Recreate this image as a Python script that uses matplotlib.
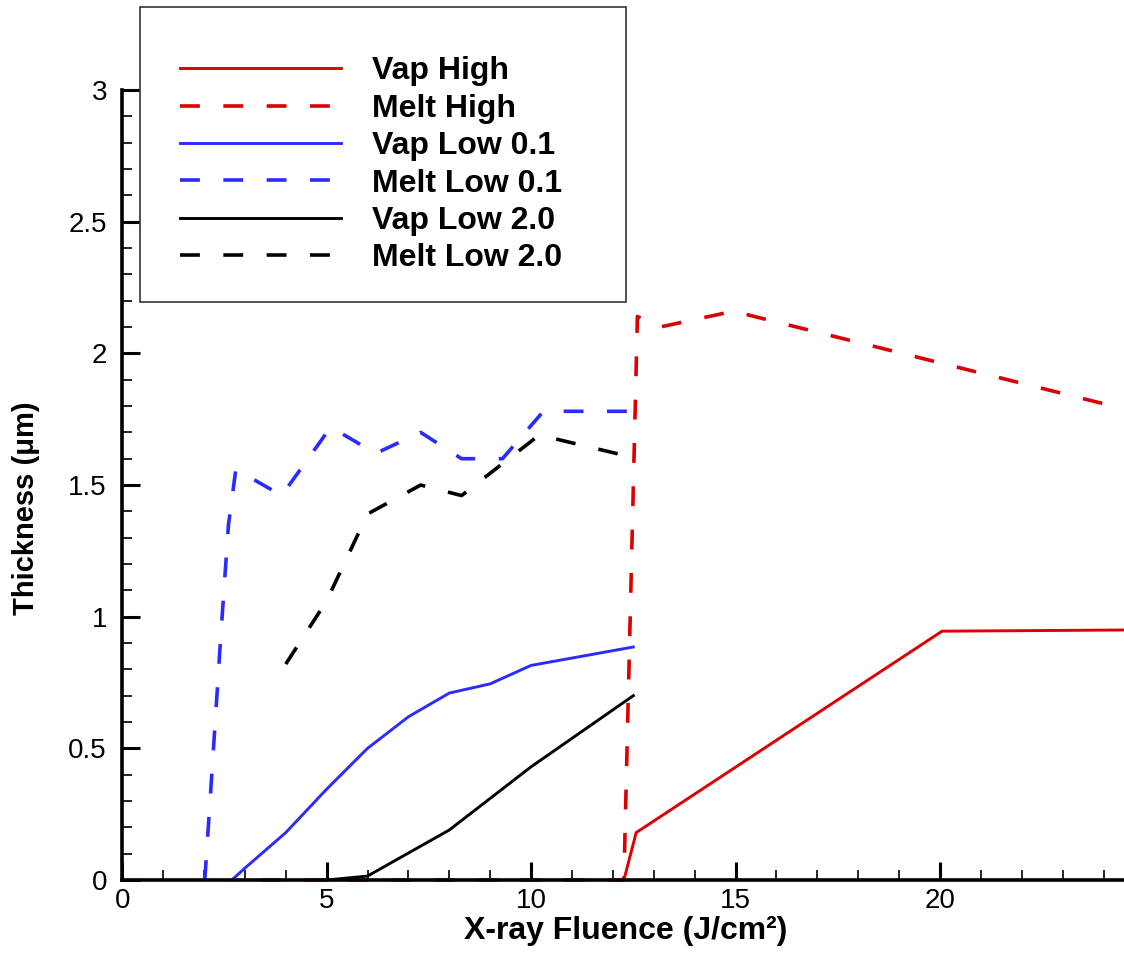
import matplotlib
matplotlib.use("Agg")
import matplotlib.pyplot as plt
from matplotlib.patches import Rectangle
from matplotlib.ticker import MultipleLocator, FuncFormatter

plt.rcParams["font.family"] = ["Liberation Sans", "DejaVu Sans"]

# Vap / melt thickness (um) vs X-ray fluence (J/cm^2)
vap_high_x = [12.27, 12.57, 20.05, 25.0]
vap_high_y = [0.0, 0.18, 0.945, 0.95]

melt_high_x = [3.4, 12.27, 12.6, 13.15, 14.95, 25.0]
melt_high_y = [0.0, 0.0, 2.14, 2.10, 2.16, 1.77]

vap_low01_x = [2.68, 3.0, 4.0, 5.0, 6.0, 7.0, 8.0, 9.0, 10.0, 12.5]
vap_low01_y = [0.0, 0.045, 0.18, 0.345, 0.50, 0.62, 0.71, 0.745, 0.815, 0.885]

melt_low01_x = [2.02, 2.2, 2.4, 2.6, 2.78, 3.9, 5.1, 6.2, 7.3, 8.3, 9.3, 10.3, 12.4]
melt_low01_y = [0.0, 0.42, 0.90, 1.35, 1.56, 1.46, 1.72, 1.62, 1.70, 1.60, 1.60, 1.78, 1.78]

vap_low2_x = [5.0, 6.0, 8.0, 10.0, 12.5]
vap_low2_y = [0.0, 0.015, 0.19, 0.43, 0.70]

melt_low2_x = [4.0, 5.0, 6.0, 7.3, 8.3, 10.2, 12.35]
melt_low2_y = [0.82, 1.06, 1.39, 1.50, 1.46, 1.69, 1.61]

vermelho = "#dd0000"
azul = "#2b2bff"
tracejado = (5.5, 6.5)
lw_cheia = 2.1
lw_trac = 2.6

fig = plt.figure(figsize=(11.24, 9.58), dpi=100)
ax = fig.add_axes([0.1087, 0.0814, 0.8913, 0.8246])

ax.plot(vap_high_x, vap_high_y, color=vermelho, lw=lw_cheia, label="Vap High", clip_on=False)
ax.plot(melt_high_x, melt_high_y, color=vermelho, lw=lw_trac, dashes=tracejado,
        label="Melt High", clip_on=False)
ax.plot(vap_low01_x, vap_low01_y, color=azul, lw=lw_cheia, label="Vap Low 0.1", clip_on=False)
ax.plot(melt_low01_x, melt_low01_y, color=azul, lw=lw_trac, dashes=tracejado,
        label="Melt Low 0.1", clip_on=False)
ax.plot(vap_low2_x, vap_low2_y, color="black", lw=lw_cheia, label="Vap Low 2.0", clip_on=False)
ax.plot(melt_low2_x, melt_low2_y, color="black", lw=lw_trac, dashes=tracejado,
        label="Melt Low 2.0", clip_on=False)

ax.set_xlim(0, 24.5)
ax.set_ylim(0, 3)

# eixos: so esquerda e baixo, ticks para dentro
ax.spines["top"].set_visible(False)
ax.spines["right"].set_visible(False)
ax.spines["left"].set_linewidth(2.6)
ax.spines["bottom"].set_linewidth(2.6)

ax.xaxis.set_major_locator(MultipleLocator(5))
ax.xaxis.set_minor_locator(MultipleLocator(1))
ax.yaxis.set_major_locator(MultipleLocator(0.5))
ax.yaxis.set_minor_locator(MultipleLocator(0.1))
fmt = FuncFormatter(lambda v, pos: "%g" % v)
ax.xaxis.set_major_formatter(fmt)
ax.yaxis.set_major_formatter(fmt)

ax.tick_params(which="major", direction="in", length=13, width=2.2, labelsize=20)
ax.tick_params(which="minor", direction="in", length=7, width=1.2)
ax.tick_params(axis="x", which="major", pad=6)
ax.tick_params(axis="y", which="major", pad=11)

fig.text(0.557, 1 - 939 / 958, "X-ray Fluence (J/cm²)", ha="center", va="baseline",
         fontsize=23, fontweight="bold")
fig.text(0.0227, 0.47, "Thickness (μm)", ha="center", va="center", rotation=90,
         fontsize=21, fontweight="bold")

# caixa da legenda
caixa = Rectangle((139.5 / 1124, 1 - 301.7 / 958), 486.5 / 1124, 294.4 / 958,
                  transform=fig.transFigure, facecolor="white", edgecolor="#333333",
                  lw=1.2, clip_on=False, zorder=5)
ax.add_patch(caixa)

leg = ax.legend(loc="upper left", bbox_to_anchor=(180 / 1124, 1 - 56.5 / 958),
                bbox_transform=fig.transFigure, frameon=False, borderpad=0,
                borderaxespad=0, handlelength=5.05, handletextpad=0.97,
                labelspacing=0.23, prop={"weight": "bold", "size": 23})
leg.set_zorder(6)

fig.savefig("out.png", dpi=100, facecolor="white")
